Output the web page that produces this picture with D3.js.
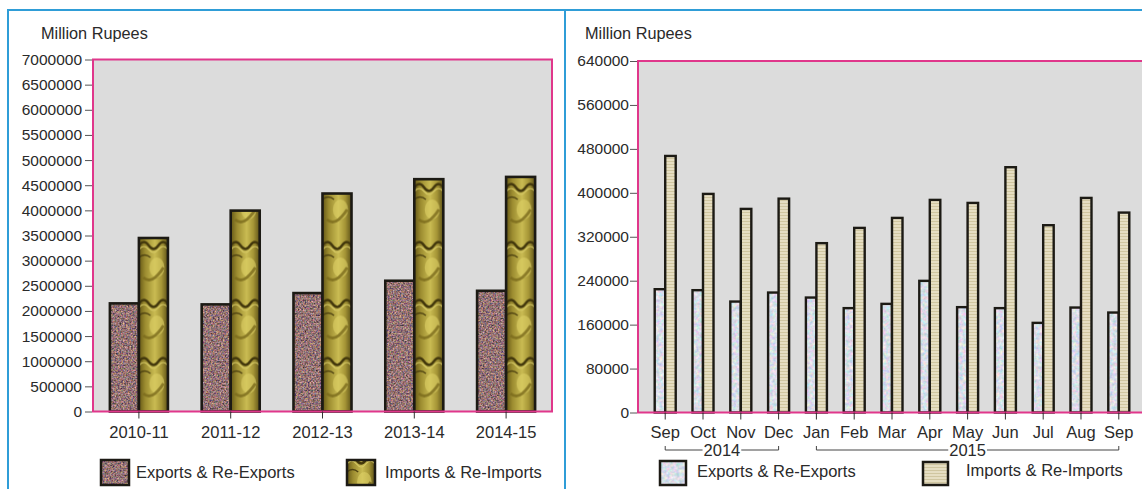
<!DOCTYPE html>
<html>
<head>
<meta charset="utf-8">
<script src="https://cdn.jsdelivr.net/npm/d3@7/dist/d3.min.js"></script>
<style>
  html, body { margin: 0; padding: 0; background: #ffffff; }
  svg { display: block; font-family: "Liberation Sans", Arial, sans-serif; }
  .tick text { fill: #2a2a2a; }
</style>
</head>
<body>
<svg id="chart" width="1142" height="489"></svg>
<script>
// ---------------- DATA ----------------
const yearCategories = ["2010-11", "2011-12", "2012-13", "2013-14", "2014-15"];
const yearExports = [2150000, 2130000, 2355000, 2600000, 2400000];
const yearImports = [3450000, 3995000, 4335000, 4620000, 4665000];
const yearTicks = [0, 500000, 1000000, 1500000, 2000000, 2500000, 3000000, 3500000,
                   4000000, 4500000, 5000000, 5500000, 6000000, 6500000, 7000000];

const monthLabels = ["Sep", "Oct", "Nov", "Dec", "Jan", "Feb", "Mar", "Apr", "May", "Jun", "Jul", "Aug", "Sep"];
const monthExports = [224500, 222700, 202000, 218400, 209300, 190000, 197800, 239700, 191800, 190000, 163200, 191100, 182000];
const monthImports = [467100, 398000, 370700, 389400, 308300, 336100, 354300, 387100, 381600, 446600, 341000, 390700, 364000];
const monthTicks = [0, 80000, 160000, 240000, 320000, 400000, 480000, 560000, 640000];
const yearGroups = [["2014", 0, 3], ["2015", 4, 12]];

const seriesNames = ["Exports & Re-Exports", "Imports & Re-Imports"];
const yLabel = "Million Rupees";

// ---------------- SETUP ----------------
const svg = d3.select("#chart");
const defs = svg.append("defs");

// speckled (left exports)
const f1 = defs.append("filter").attr("id", "speckle").attr("x", 0).attr("y", 0).attr("width", 1).attr("height", 1)
  .attr("color-interpolation-filters", "sRGB");
f1.append("feTurbulence").attr("type", "fractalNoise").attr("baseFrequency", 0.6).attr("numOctaves", 2).attr("seed", 4).attr("result", "n");
f1.append("feColorMatrix").attr("in", "n").attr("type", "matrix")
  .attr("values", "0.8 0.5 0 0 -0.07  0.3 0.7 0 0 -0.05  0.15 0.4 0.5 0 -0.07  0 0 0 0 1").attr("result", "c");
f1.append("feComposite").attr("in", "c").attr("in2", "SourceGraphic").attr("operator", "in");

// light speckle (right exports)
const f2 = defs.append("filter").attr("id", "lightSpeckle").attr("x", 0).attr("y", 0).attr("width", 1).attr("height", 1)
  .attr("color-interpolation-filters", "sRGB");
f2.append("feTurbulence").attr("type", "fractalNoise").attr("baseFrequency", 0.3).attr("numOctaves", 2).attr("seed", 9).attr("result", "n");
f2.append("feColorMatrix").attr("in", "n").attr("type", "matrix")
  .attr("values", "0.45 0 0 0 0.63  0 0.3 0 0 0.72  0 0 0.22 0 0.8  0 0 0 0 1").attr("result", "c");
f2.append("feComposite").attr("in", "c").attr("in2", "SourceGraphic").attr("operator", "in");

// gold horizontal gradient
const gg = defs.append("linearGradient").attr("id", "goldGrad").attr("x1", 0).attr("x2", 1).attr("y1", 0).attr("y2", 0);
[["0%", "#655816"], ["22%", "#9c8c30"], ["55%", "#c9bb52"], ["78%", "#a59536"], ["100%", "#5e5218"]]
  .forEach(([o, c]) => gg.append("stop").attr("offset", o).attr("stop-color", c));

// beige lined pattern (right imports)
const bp = defs.append("pattern").attr("id", "beigeLines").attr("patternUnits", "userSpaceOnUse")
  .attr("width", 6).attr("height", 3);
bp.append("rect").attr("width", 6).attr("height", 3).attr("fill", "#e6dec2");
bp.append("rect").attr("y", 2).attr("width", 6).attr("height", 1).attr("fill", "#d0c6a0");

function goldPattern(id, x0, y0, w) {
  const p = defs.append("pattern").attr("id", id).attr("patternUnits", "userSpaceOnUse")
    .attr("x", x0).attr("y", y0).attr("width", w).attr("height", 58);
  p.append("rect").attr("width", w).attr("height", 58).attr("fill", "url(#goldGrad)");
  p.append("ellipse").attr("cx", w * 0.62).attr("cy", 30).attr("rx", w * 0.26).attr("ry", 10)
    .attr("fill", "#ddd065").attr("opacity", 0.6);
  p.append("path").attr("d", `M${w*0.15},40 q${w*0.3},8 ${w*0.7},-10`)
    .attr("fill", "none").attr("stroke", "#7a6a1c").attr("stroke-width", 3).attr("opacity", 0.8);
  p.append("path").attr("d", `M0,8 q${w*0.17},-7 ${w*0.34},0 q${w*0.17},7 ${w*0.33},0 q${w*0.17},-7 ${w*0.33},0`)
    .attr("fill", "none").attr("stroke", "#43380c").attr("stroke-width", 2.4);
  p.append("path").attr("d", `M0,12 q${w*0.17},-6 ${w*0.34},0 q${w*0.17},6 ${w*0.33},0 q${w*0.17},-6 ${w*0.33},0`)
    .attr("fill", "none").attr("stroke", "#d6c965").attr("stroke-width", 1.2);
  p.append("path").attr("d", `M0,20 q${w*0.2},-5 ${w*0.4},0`)
    .attr("fill", "none").attr("stroke", "#4e4210").attr("stroke-width", 1.4);
}

// ---------------- FRAME ----------------
svg.append("path").attr("d", "M8,495 L8,10 L1150,10 M565,10 L565,495")
  .attr("fill", "none").attr("stroke", "#2f9dd7").attr("stroke-width", 2);

function legend(g, items) {
  items.forEach(it => {
    g.append("rect").attr("x", it.sx).attr("y", it.sy).attr("width", it.sw).attr("height", it.sh)
      .attr("fill", it.fill).attr("filter", it.filter || null);
    g.append("rect").attr("x", it.sx).attr("y", it.sy).attr("width", it.sw).attr("height", it.sh)
      .attr("fill", "none").attr("stroke", "#1c1a14").attr("stroke-width", 2.5);
    g.append("text").attr("x", it.tx).attr("y", it.ty).attr("font-size", 16.5).attr("fill", "#2a2a2a").text(it.label);
  });
}

// ---------------- LEFT CHART ----------------
{
  const L = 93, R = 552, T = 59.5, B = 411.5;
  const g = svg.append("g");
  const x = d3.scaleBand().domain(yearCategories).range([L, R]).padding(0);
  const y = d3.scaleLinear().domain([0, 7000000]).range([B, T]);
  const bw = x.bandwidth() * 0.316;

  g.append("rect").attr("x", L).attr("y", T).attr("width", R - L).attr("height", B - T).attr("fill", "#dcdcdc");

  const rows = yearCategories.map((c, i) => ({ c, ex: yearExports[i], im: yearImports[i] }));
  rows.forEach((d, i) => goldPattern("gold" + i, x(d.c) + x.bandwidth() / 2, B, bw));

  g.selectAll(".ex").data(rows).join("rect").attr("class", "ex")
    .attr("x", d => x(d.c) + x.bandwidth() / 2 - bw).attr("width", bw)
    .attr("y", d => y(d.ex)).attr("height", d => y(0) - y(d.ex))
    .attr("fill", "#8a7a74").attr("filter", "url(#speckle)");
  g.selectAll(".exs").data(rows).join("rect").attr("class", "exs")
    .attr("x", d => x(d.c) + x.bandwidth() / 2 - bw).attr("width", bw)
    .attr("y", d => y(d.ex)).attr("height", d => y(0) - y(d.ex))
    .attr("fill", "none").attr("stroke", "#1c1a14").attr("stroke-width", 2.6);
  g.selectAll(".im").data(rows).join("rect").attr("class", "im")
    .attr("x", d => x(d.c) + x.bandwidth() / 2).attr("width", bw)
    .attr("y", d => y(d.im)).attr("height", d => y(0) - y(d.im))
    .attr("fill", (d, i) => `url(#gold${i})`)
    .attr("stroke", "#1c1a14").attr("stroke-width", 2.6);

  g.append("rect").attr("x", L).attr("y", T).attr("width", R - L).attr("height", B - T)
    .attr("fill", "none").attr("stroke", "#e0378b").attr("stroke-width", 2);

  const ya = g.append("g").attr("transform", `translate(${L - 1},0)`)
    .call(d3.axisLeft(y).tickValues(yearTicks).tickFormat(d3.format("d")).tickSize(7).tickPadding(3));
  ya.select(".domain").remove();
  ya.selectAll(".tick line").attr("stroke", "#555");
  ya.selectAll(".tick text").attr("font-size", 15.5).attr("font-family", "Liberation Sans, Arial");

  const xa = g.append("g").attr("transform", `translate(0,${B})`)
    .call(d3.axisBottom(x).tickSize(7).tickPadding(8));
  xa.select(".domain").remove();
  xa.selectAll(".tick line").attr("stroke", "#333");
  xa.selectAll(".tick text").attr("font-size", 16.5).attr("font-family", "Liberation Sans, Arial");

  g.append("text").attr("x", 41).attr("y", 39).attr("font-size", 16.3).attr("fill", "#2a2a2a").text(yLabel);

  legend(g, [
    { sx: 101, sy: 460, sw: 28, sh: 25, fill: "#8a7a74", filter: "url(#speckle)", tx: 136, ty: 477.5, label: seriesNames[0] },
    { sx: 347, sy: 460, sw: 28, sh: 25, fill: "url(#goldLeg)", tx: 385, ty: 477.5, label: seriesNames[1] }
  ]);
  goldPattern("goldLeg", 347, 452, 28);
}

// ---------------- RIGHT CHART ----------------
{
  const L = 638, R = 1146, T = 61, B = 412.5;
  const g = svg.append("g");
  const idx = monthLabels.map((m, i) => i);
  const x = d3.scaleBand().domain(idx).range([L, R]).paddingInner(0).paddingOuter(0.22);
  const y = d3.scaleLinear().domain([0, 640000]).range([B, T]);
  const bw = x.bandwidth() * 0.278;

  g.append("rect").attr("x", L).attr("y", T).attr("width", R - L).attr("height", B - T).attr("fill", "#dcdcdc");

  const rows = idx.map(i => ({ i, ex: monthExports[i], im: monthImports[i] }));
  const cx = d => x(d.i) + x.bandwidth() / 2;

  g.selectAll(".ex").data(rows).join("rect").attr("class", "ex")
    .attr("x", d => cx(d) - bw).attr("width", bw)
    .attr("y", d => y(d.ex)).attr("height", d => y(0) - y(d.ex))
    .attr("fill", "#d8e0e8").attr("filter", "url(#lightSpeckle)");
  g.selectAll(".exs").data(rows).join("rect").attr("class", "exs")
    .attr("x", d => cx(d) - bw).attr("width", bw)
    .attr("y", d => y(d.ex)).attr("height", d => y(0) - y(d.ex))
    .attr("fill", "none").attr("stroke", "#1c1a14").attr("stroke-width", 2.4);
  g.selectAll(".im").data(rows).join("rect").attr("class", "im")
    .attr("x", d => cx(d)).attr("width", bw)
    .attr("y", d => y(d.im)).attr("height", d => y(0) - y(d.im))
    .attr("fill", "url(#beigeLines)").attr("stroke", "#1c1a14").attr("stroke-width", 2.4);

  g.append("rect").attr("x", L).attr("y", T).attr("width", R - L).attr("height", B - T)
    .attr("fill", "none").attr("stroke", "#e0378b").attr("stroke-width", 2);

  const ya = g.append("g").attr("transform", `translate(${L - 1},0)`)
    .call(d3.axisLeft(y).tickValues(monthTicks).tickFormat(d3.format("d")).tickSize(7).tickPadding(1));
  ya.select(".domain").remove();
  ya.selectAll(".tick line").attr("stroke", "#555");
  ya.selectAll(".tick text").attr("font-size", 15.5).attr("font-family", "Liberation Sans, Arial");

  const xa = g.append("g").attr("transform", `translate(0,${B})`)
    .call(d3.axisBottom(x).tickFormat(i => monthLabels[i]).tickSize(7).tickPadding(7));
  xa.select(".domain").remove();
  xa.selectAll(".tick line").attr("stroke", "#333");
  xa.selectAll(".tick text").attr("font-size", 16.5).attr("font-family", "Liberation Sans, Arial");

  const yb = 450;
  yearGroups.forEach(([lab, a, b]) => {
    const x0 = x(a) + x.bandwidth() / 2, x1 = x(b) + x.bandwidth() / 2, xm = (x0 + x1) / 2;
    const t = g.append("text").attr("x", xm).attr("y", yb + 6).attr("text-anchor", "middle")
      .attr("font-size", 16.5).attr("fill", "#2a2a2a").text(lab);
    const tw = t.node().getComputedTextLength() / 2 + 1;
    g.append("path")
      .attr("d", `M${x0},${yb - 4} L${x0},${yb} L${xm - tw},${yb} M${xm + tw},${yb} L${x1},${yb} L${x1},${yb - 4}`)
      .attr("fill", "none").attr("stroke", "#444").attr("stroke-width", 1);
  });

  g.append("text").attr("x", 585).attr("y", 39).attr("font-size", 16.3).attr("fill", "#2a2a2a").text(yLabel);

  legend(g, [
    { sx: 660, sy: 461, sw: 26, sh: 24, fill: "#e2e8ee", filter: "url(#lightSpeckle)", tx: 697, ty: 476.5, label: seriesNames[0] },
    { sx: 923, sy: 462, sw: 25, sh: 23, fill: "url(#beigeLines)", tx: 966, ty: 476, label: seriesNames[1] }
  ]);
}
</script>
</body>
</html>
